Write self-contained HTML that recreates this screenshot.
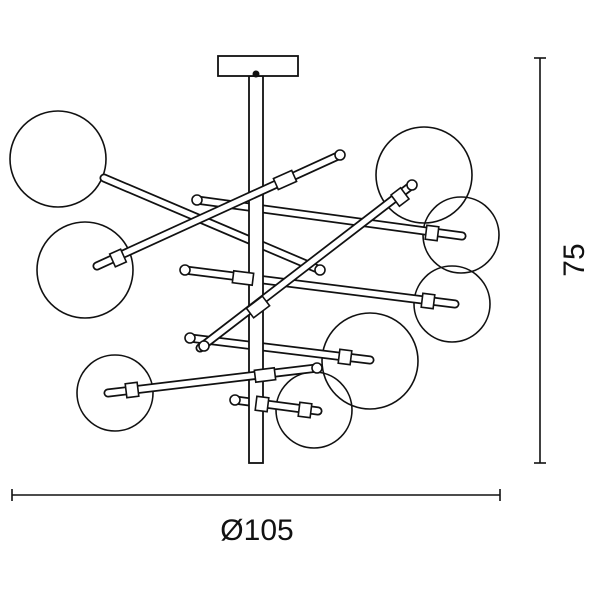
<!DOCTYPE html>
<html><head><style>body{margin:0;background:#fff}svg{display:block}</style></head><body>
<svg width="600" height="600" viewBox="0 0 600 600" xmlns="http://www.w3.org/2000/svg">
<g fill="none" stroke="#111" stroke-width="1.6">
<circle cx="58" cy="159" r="48"/>
<circle cx="85" cy="270" r="48"/>
<circle cx="424" cy="175" r="48"/>
<circle cx="461" cy="235" r="38"/>
<circle cx="452" cy="304" r="38"/>
<circle cx="370" cy="361" r="48"/>
<circle cx="115" cy="393" r="38"/>
<circle cx="314" cy="410" r="38"/>
</g>
<g stroke-linecap="round">
<g stroke="#111" stroke-width="9">
<line x1="104" y1="178" x2="320" y2="270"/>
<line x1="197" y1="200" x2="462" y2="236"/>
<line x1="185" y1="270" x2="455" y2="304"/>
<line x1="190" y1="338" x2="370" y2="360"/>
<line x1="235" y1="400" x2="318" y2="411"/>
</g>
<g stroke="#fff" stroke-width="5.5">
<line x1="104" y1="178" x2="320" y2="270"/>
<line x1="197" y1="200" x2="462" y2="236"/>
<line x1="185" y1="270" x2="455" y2="304"/>
<line x1="190" y1="338" x2="370" y2="360"/>
<line x1="235" y1="400" x2="318" y2="411"/>
</g>
</g>
<rect x="249" y="76" width="14" height="387" fill="#fff" stroke="#111" stroke-width="1.8"/>
<rect x="218" y="56" width="80" height="20" fill="#fff" stroke="#111" stroke-width="1.8"/>
<circle cx="256" cy="74" r="3.5" fill="#111"/>
<g stroke-linecap="round">
<g stroke="#111" stroke-width="9">
<line x1="97" y1="266" x2="340" y2="155"/>
<line x1="200" y1="348" x2="412" y2="185"/>
<line x1="108" y1="393" x2="317" y2="368"/>
</g>
<g stroke="#fff" stroke-width="5.5">
<line x1="97" y1="266" x2="340" y2="155"/>
<line x1="200" y1="348" x2="412" y2="185"/>
<line x1="108" y1="393" x2="317" y2="368"/>
</g>
</g>
<g fill="#fff" stroke="#111" stroke-width="1.6">
<rect x="-10" y="-6" width="20" height="12" transform="translate(285,180) rotate(-24)"/>
<rect x="-6" y="-7" width="12" height="14" transform="translate(118,258) rotate(-24)"/>
<rect x="-10" y="-6" width="20" height="12" transform="translate(243,278) rotate(7)"/>
<rect x="-10" y="-6" width="20" height="12" transform="translate(258,307) rotate(-37)"/>
<rect x="-6" y="-7" width="12" height="14" transform="translate(400,197) rotate(-37)"/>
<rect x="-10" y="-6" width="20" height="12" transform="translate(265,375) rotate(-7)"/>
<rect x="-6" y="-7" width="12" height="14" transform="translate(132,390) rotate(-7)"/>
<rect x="-6" y="-7" width="12" height="14" transform="translate(432,233) rotate(7)"/>
<rect x="-6" y="-7" width="12" height="14" transform="translate(428,301) rotate(7)"/>
<rect x="-6" y="-7" width="12" height="14" transform="translate(345,357) rotate(7)"/>
<rect x="-6" y="-7" width="12" height="14" transform="translate(305,410) rotate(7)"/>
<rect x="-6" y="-7" width="12" height="14" transform="translate(262,404) rotate(7)"/>
<circle cx="340" cy="155" r="5"/><circle cx="197" cy="200" r="5"/><circle cx="185" cy="270" r="5"/>
<circle cx="190" cy="338" r="5"/><circle cx="235" cy="400" r="5"/><circle cx="320" cy="270" r="5"/>
<circle cx="412" cy="185" r="5"/><circle cx="204" cy="346" r="5"/><circle cx="317" cy="368" r="5"/>
</g>
<g stroke="#111" stroke-width="1.6">
<line x1="540" y1="58" x2="540" y2="463"/>
<line x1="534" y1="58" x2="546" y2="58"/>
<line x1="534" y1="463" x2="546" y2="463"/>
<line x1="12" y1="495" x2="500" y2="495"/>
<line x1="12" y1="489" x2="12" y2="501"/>
<line x1="500" y1="489" x2="500" y2="501"/>
</g>
<text x="257" y="540" font-family="Liberation Sans, sans-serif" font-size="30" text-anchor="middle" fill="#111">Ø105</text>
<text transform="translate(584,260) rotate(-90)" font-family="Liberation Sans, sans-serif" font-size="30" text-anchor="middle" fill="#111">75</text>
</svg>
</body></html>
